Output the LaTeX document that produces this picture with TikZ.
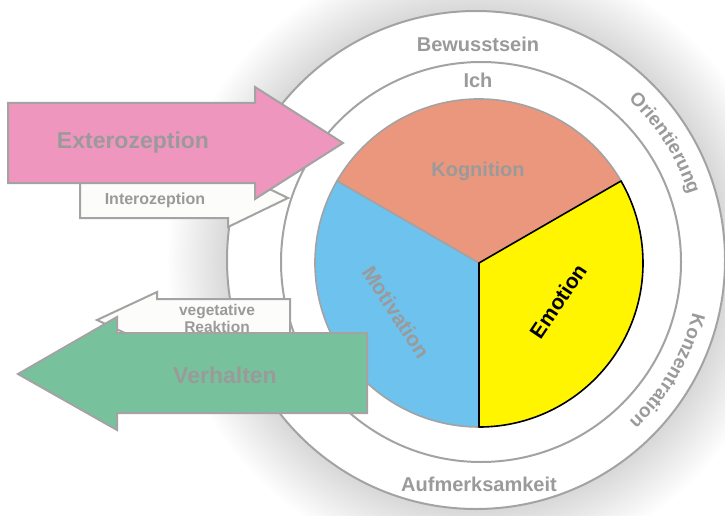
\documentclass[tikz,border=0pt]{standalone}
\usepackage{fontspec}
\setmainfont{Liberation Sans}
\usetikzlibrary{decorations.text}
\definecolor{Psy_Salmon}{HTML}{EA977E}
\definecolor{Psy_Sky}{HTML}{6EC2EE}
\definecolor{Psy_Yellow}{HTML}{FFF500}
\definecolor{Psy_Pink}{HTML}{EF96BE}
\definecolor{Psy_Green}{HTML}{77C29C}
\definecolor{Psy_Ivory}{HTML}{FCFCFA}
\definecolor{Line_Gray}{HTML}{A3A3A3}
\definecolor{Label_Gray}{HTML}{9A9A9A}
\definecolor{Glow_Gray}{HTML}{D8D8D8}
\pgfdeclareradialshading{ringglow}{\pgfpoint{0bp}{0bp}}{color(0bp)=(Glow_Gray); color(20.1bp)=(Glow_Gray); color(25bp)=(white); color(50bp)=(white)}
\tikzset{
  ringline/.style={draw=Line_Gray, line width=2},
  sectorline/.style={draw=Line_Gray, line width=1.6, line join=round},
  arrowline/.style={draw=Line_Gray, line width=2, line join=miter},
  biglabel/.style={font=\bfseries\fontsize{20}{22}\selectfont, text=Label_Gray},
  arrowlabel/.style={font=\bfseries\fontsize{23}{25}\selectfont, text=Label_Gray},
  smalllabel/.style={font=\bfseries\fontsize{15.5}{17}\selectfont, text=Label_Gray, align=center}
}

\begin{document}
\begin{tikzpicture}[x=1pt, y=1pt]
    \useasboundingbox (0,0) rectangle (725,515);

    % Shadow
    \shade[shading=ringglow] (476,255) circle (310);

    % Rings
    \draw[ringline, fill=white] (476,255) circle (249);
    \draw[ringline, fill=white] (481,253) circle (200);

    % Pie
    \coordinate (pie) at (479,252);
    \draw[sectorline, fill=Psy_Salmon] (pie) -- ++(30:164) arc (30:150:164) -- cycle;
    \draw[sectorline, fill=Psy_Sky] (pie) -- ++(150:164) arc (150:270:164) -- cycle;
    \draw[sectorline, draw=black, fill=Psy_Yellow] (pie) -- ++(270:164) arc (270:390:164) -- cycle;

    % Ring labels
    \node[biglabel] (bewusstsein) at (478,471) {Bewusstsein};
    \node[biglabel] (ich) at (478,435) {Ich};
    \node[biglabel] (aufmerksamkeit) at (479,31) {Aufmerksamkeit};
    \path[shift={(480,254)}, decorate, decoration={text along path, text align=center,
        text={|\color{Label_Gray}\bfseries\fontsize{19}{19}\selectfont|Orientierung}}]
        (62.5:219) arc (62.5:2.5:219);
    \path[shift={(480,254)}, decorate, decoration={text along path, text align=center,
        text={|\color{Label_Gray}\bfseries\fontsize{19}{19}\selectfont|Konzentration}}]
        (-0.4:219) arc (-0.4:-60.4:219);

    % Pie labels
    \node[biglabel] (kognition) at (478,344) {Kognition};
    \node[biglabel, font=\bfseries\fontsize{21}{23}\selectfont, rotate=-57] (motivation) at (396,203) {Motivation};
    \node[biglabel, font=\bfseries\fontsize{21}{23}\selectfont, text=black, rotate=56] (emotion) at (558,214) {Emotion};

    % Interozeption
    \draw[arrowline, fill=Psy_Ivory] (80,337) -- (228,337) -- (228,346) -- (288,317)
        -- (228,288) -- (228,297) -- (80,297) -- cycle;
    \node[smalllabel, font=\bfseries\fontsize{16}{18}\selectfont] (interozeption) at (155,315) {Interozeption};

    % Exterozeption
    \draw[arrowline, fill=Psy_Pink] (8,412) -- (255,412) -- (255,428) -- (343,372)
        -- (255,316) -- (255,332) -- (8,332) -- cycle;
    \node[arrowlabel] (exterozeption) at (133,372) {Exterozeption};

    % vegetative Reaktion
    \draw[arrowline, fill=Psy_Ivory] (290,216) -- (157,216) -- (157,223) -- (97,195)
        -- (157,167) -- (157,174) -- (290,174) -- cycle;
    \node[smalllabel] (vegetativ) at (217,197) {vegetative\\Reaktion};

    % Verhalten
    \draw[arrowline, fill=Psy_Green] (367,182) -- (117,182) -- (117,198) -- (18,141)
        -- (117,85) -- (117,102) -- (367,102) -- cycle;
    \node[arrowlabel] (verhalten) at (225,140) {Verhalten};
\end{tikzpicture}
\end{document}
